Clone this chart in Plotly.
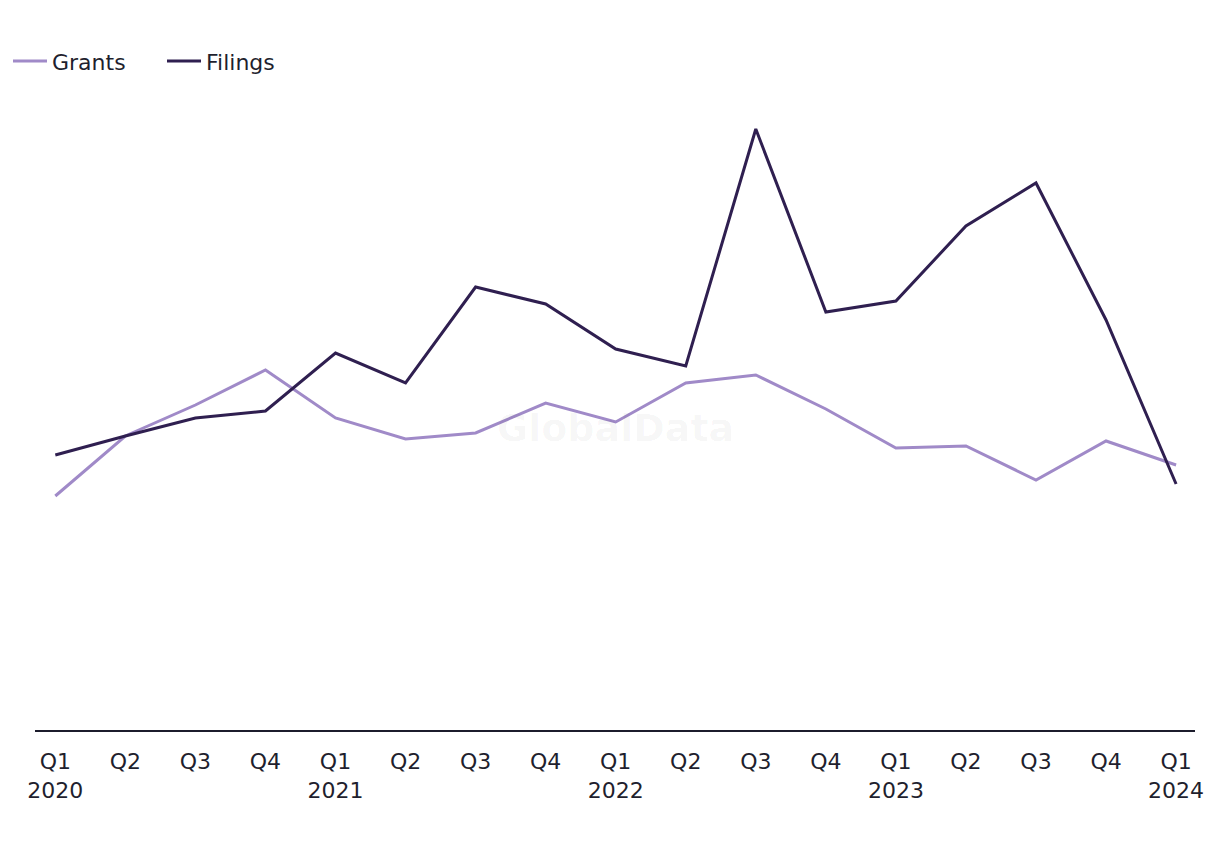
import plotly.graph_objects as go

quarters = ["Q1<br>2020", "Q2", "Q3", "Q4", "Q1<br>2021", "Q2", "Q3", "Q4",
            "Q1<br>2022", "Q2", "Q3", "Q4", "Q1<br>2023", "Q2", "Q3", "Q4", "Q1<br>2024"]
grants = [234, 294, 325, 360, 312, 291, 297, 327, 308, 347, 355, 321, 282, 284, 250, 289, 265]
filings = [275, 294, 312, 319, 377, 347, 443, 426, 381, 364, 601, 418, 429, 504, 547, 410, 246]

xs = list(range(len(quarters)))

FONT = "DejaVu Sans"

fig = go.Figure()
fig.add_trace(go.Scatter(x=xs, y=grants, mode="lines", name="Grants",
                         line=dict(color="#a08ac8", width=3)))
fig.add_trace(go.Scatter(x=xs, y=filings, mode="lines", name="Filings",
                         line=dict(color="#2f1f50", width=3)))

fig.add_annotation(text="GlobalData", x=0.5, y=0.48, xref="paper", yref="paper",
                   showarrow=False, font=dict(size=38, color="rgba(0,0,0,0.035)", family=FONT, weight="bold"))

fig.update_layout(
    width=1220, height=850,
    margin=dict(l=27, r=33, t=92, b=128),
    plot_bgcolor="white", paper_bgcolor="white",
    font=dict(family=FONT, size=22, color="#1f1f2e"),
    showlegend=True,
    legend=dict(orientation="h", xref="paper", yref="container", x=-0.0265, y=0.962,
                xanchor="left", yanchor="top", font=dict(family=FONT, size=22, color="#1f1f2e"),
                itemwidth=34, entrywidth=105, traceorder="normal"),
    xaxis=dict(tickmode="array", tickvals=xs, ticktext=quarters, range=[-0.29, 16.27],
               showgrid=False, zeroline=False, showline=True, linecolor="#1c1c2c", linewidth=2,
               ticks="outside", ticklen=11, tickcolor="rgba(0,0,0,0)",
               tickfont=dict(family=FONT, size=22, color="#1f1f2e")),
    yaxis=dict(range=[0, 630], showgrid=False, zeroline=False, showline=False,
               showticklabels=False, ticks=""),
)

fig.write_html("out.html")
